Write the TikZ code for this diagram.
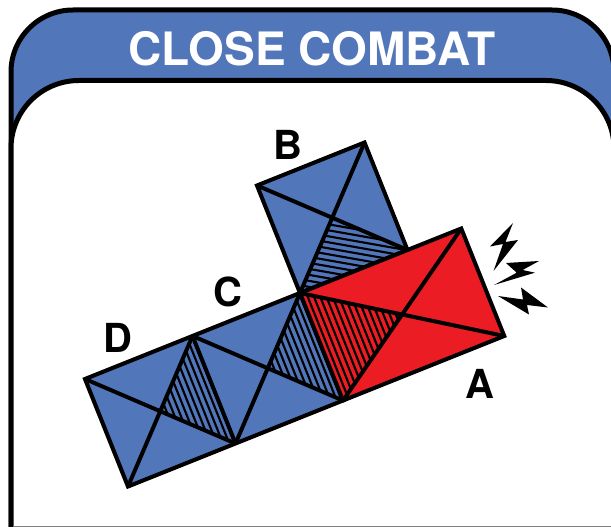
\documentclass[tikz,border=0pt]{standalone}
\usepackage{fontspec}
\newfontfamily\heros{TeX Gyre Heros}
\definecolor{tileblue}{RGB}{82,118,186}
\definecolor{tilered}{RGB}{236,28,36}
\begin{document}
\begin{tikzpicture}[x=0.75pt,y=-0.75pt,
  frameline/.style={line width=3.75pt},
  tileline/.style={line width=3pt, line join=miter},
  hatchline/.style={line width=1.6pt},
  letter/.style={font=\heros\bfseries\fontsize{30}{32}\selectfont, inner sep=0pt, text=black},
  bolt/.style={fill=black}]
\useasboundingbox (0,0) rectangle (611,527);

% frame: blue header band and white panel
\begin{scope}
  \clip (0,0) rectangle (611,527);
  \draw[frameline, fill=tileblue, rounded corners=46.5pt]
    (11,640) -- (11,10) -- (614,10) -- (614,640);
  \draw[frameline, fill=white, rounded corners=51pt]
    (11,640) -- (11,80.5) -- (614,80.5) -- (614,640);
  \draw[gray, line width=1pt] (13,526.5) -- (611,526.5);
\end{scope}
\node[font=\heros\bfseries\fontsize{34.5}{38}\selectfont, text=white, inner sep=0pt]
  (title) at (312,48.5) {CLOSE COMBAT};

% tiles, in a frame aligned with the row of units
\begin{scope}[shift={(85,379)}]
\begin{scope}[x={(80.625pt,32.25pt)}, y={(32.25pt,-80.625pt)}]
  \coordinate (a0) at (0,0);   \coordinate (b0) at (0,1);
  \coordinate (a1) at (1,0);   \coordinate (b1) at (1,1);
  \coordinate (a2) at (2,0);   \coordinate (b2) at (2,1);
  \coordinate (a3) at (3,0);
  \coordinate (a4) at (3.5,0); \coordinate (b4) at (3.5,1);
  \coordinate (c2) at (2,-1);  \coordinate (c3) at (3,-1);
  \coordinate (m1) at (0.5,0.5);
  \coordinate (m2) at (1.5,0.5);
  \coordinate (mb) at (2.5,-0.5);
  \coordinate (mr) at (2.75,0.5);

  % blue units D, C and B
  \fill[tileblue] (a0) -- (a2) -- (b2) -- (b0) -- cycle;
  \fill[tileblue] (c2) -- (c3) -- (a3) -- (a2) -- cycle;
  \begin{scope}
    \clip (a1) -- (b1) -- (m1) -- cycle;
    \foreach \s in {0.50,0.55,...,1.01} \draw[hatchline] (\s,-0.1) -- (\s,1.1);
  \end{scope}
  \begin{scope}
    \clip (a2) -- (b2) -- (m2) -- cycle;
    \foreach \s in {1.50,1.55,...,2.01} \draw[hatchline] (\s,-0.1) -- (\s,1.1);
  \end{scope}
  \draw[tileline] (a0) -- (a2) -- (b2) -- (b0) -- cycle;
  \draw[tileline] (a1) -- (b1);
  \draw[tileline] (a0) -- (b1) (a1) -- (b0);
  \draw[tileline] (a1) -- (b2) (a2) -- (b1);
\end{scope}
\end{scope}

% hatching of unit B
\begin{scope}
  \clip (a2) -- (a3) -- (mb) -- cycle;
  \foreach \y in {190,196,...,310} \draw[hatchline] (270,\y) -- (440,\y+30);
\end{scope}
\draw[tileline] (c2) -- (c3) -- (a3) -- (a2) -- cycle;
\draw[tileline] (c2) -- (a3) (c3) -- (a2);

% red unit A
\fill[tilered] (a2) -- (a4) -- (b4) -- (b2) -- cycle;
\begin{scope}[shift={(85,379)}]
\begin{scope}[x={(80.625pt,32.25pt)}, y={(32.25pt,-80.625pt)}]
  \clip (a2) -- (b2) -- (mr) -- cycle;
  \foreach \s in {2.00,2.05,...,2.76} \draw[hatchline] (\s,-0.1) -- (\s,1.1);
\end{scope}
\end{scope}
\draw[tileline] (a2) -- (a4) -- (b4) -- (b2) -- cycle;
\draw[tileline] (a2) -- (b4) (a4) -- (b2);

% labels
\node[letter] (lb) at (288,145) {B};
\node[letter] (lc) at (228,292) {C};
\node[letter] (ld) at (118,338) {D};
\node[letter] (la) at (480,384) {A};

% impact bolts
\fill[bolt] (513,223) -- (490,246.5) -- (503,244) -- (493.5,271) -- (518,240) -- (505.5,242) -- cycle;
\fill[bolt] (506,263) -- (539,261) -- (522.7,270) -- (535,272.7) -- (494,285) -- (516.7,272.7) -- cycle;
\fill[bolt] (498,296) -- (523,299.5) -- (521,287.5) -- (548,307.5) -- (527,305) -- (529,314.5) -- cycle;
\end{tikzpicture}
\end{document}
